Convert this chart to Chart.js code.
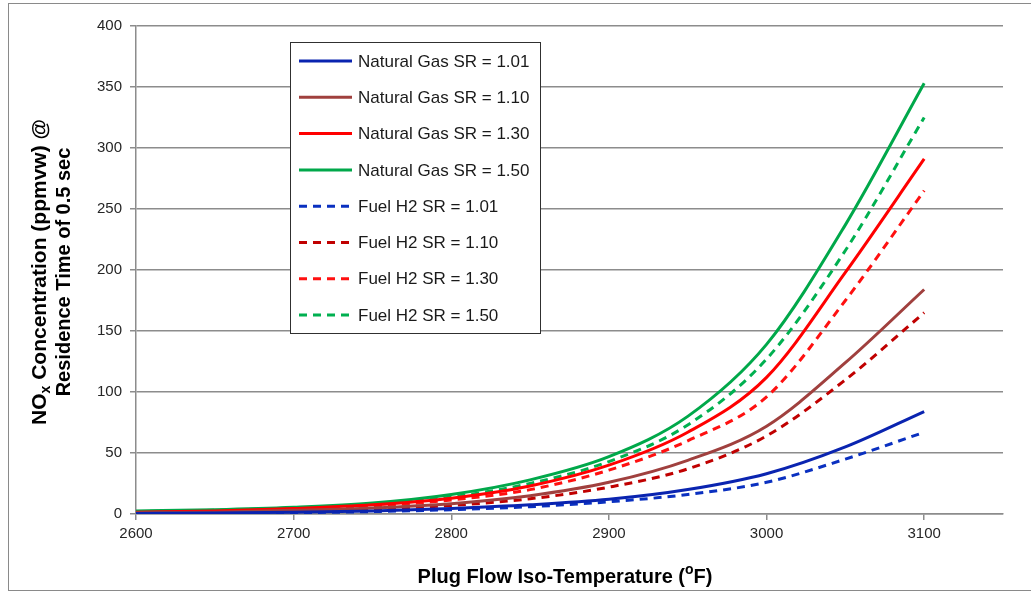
<!DOCTYPE html>
<html>
<head>
<meta charset="utf-8">
<title>NOx vs Plug Flow Temperature</title>
<script src="https://cdn.jsdelivr.net/npm/chart.js@4.4.1/dist/chart.umd.min.js"></script>
<style>
    html, body { margin: 0; padding: 0; background: #ffffff; }
    #wrap { width: 1031px; height: 593px; position: relative; }
</style>
</head>
<body>
<div id="wrap"><canvas id="noxChart" width="1031" height="593"></canvas></div>
<script>
// ===== DATA =====
const temps = [2600, 2650, 2700, 2750, 2800, 2850, 2900, 2950, 3000, 3050, 3100];

const ngSR101 = [0.5, 0.8, 1.5, 2.5, 4.5, 7.5, 12, 20, 33, 55, 84];
const ngSR110 = [1, 1.5, 3, 5, 8.5, 15, 26, 44, 72, 124, 184];
const ngSR130 = [1.5, 2.5, 4.5, 7.5, 13, 23, 40, 67, 112, 198, 291];
const ngSR150 = [2.5, 3.5, 5.5, 9, 16, 28, 47, 80, 139, 237, 353];

const h2SR101 = [0.3, 0.5, 1, 2, 3.5, 6, 10, 16, 26, 45, 67];
const h2SR110 = [0.8, 1.2, 2.5, 4, 7, 12.5, 22, 37, 64, 110, 165];
const h2SR130 = [1.2, 2, 4, 6.5, 11.5, 20, 36, 60, 96, 175, 265];
const h2SR150 = [2, 3, 5, 8, 14, 25, 43, 73, 127, 216, 325];

const seriesLabels = [
    'Natural Gas SR = 1.01', 'Natural Gas SR = 1.10', 'Natural Gas SR = 1.30', 'Natural Gas SR = 1.50',
    'Fuel H2 SR = 1.01', 'Fuel H2 SR = 1.10', 'Fuel H2 SR = 1.30', 'Fuel H2 SR = 1.50'
];
const seriesColors = ['#0a24b0', '#a0403e', '#ff0000', '#00a84a', '#0a30c0', '#c00000', '#ff1010', '#00b050'];

const FONT = '"Liberation Sans", Arial, sans-serif';

function toPoints(values) {
    return temps.map((t, i) => ({ x: t, y: values[i] }));
}

function makeDataset(idx, values, dashed) {
    return {
        label: seriesLabels[idx],
        data: toPoints(values),
        borderColor: seriesColors[idx],
        backgroundColor: seriesColors[idx],
        borderWidth: 3,
        borderDash: dashed ? [8, 6] : [],
        pointRadius: 0,
        cubicInterpolationMode: 'monotone',
        fill: false
    };
}

// ===== TEXT HELPERS =====
// draws a run of text pieces, some of them sub/superscript, centred on (0, 0)
function drawRichLine(ctx, parts, size) {
    const small = Math.round(size * 0.68);
    let total = 0;
    parts.forEach(p => {
        ctx.font = 'bold ' + (p.sub || p.sup ? small : size) + 'px ' + FONT;
        p.w = ctx.measureText(p.text).width;
        total += p.w;
    });
    let x = -total / 2;
    parts.forEach(p => {
        ctx.font = 'bold ' + (p.sub || p.sup ? small : size) + 'px ' + FONT;
        let dy = 0;
        if (p.sub) dy = size * 0.28;
        if (p.sup) dy = -size * 0.32;
        ctx.fillText(p.text, x, dy);
        x += p.w;
    });
}

// ===== PLUGINS =====
const frameAndTitles = {
    id: 'frameAndTitles',
    beforeDraw(chart) {
        const ctx = chart.ctx;
        ctx.save();
        ctx.fillStyle = '#ffffff';
        ctx.fillRect(0, 0, chart.width, chart.height);
        ctx.strokeStyle = '#8a8a8a';
        ctx.lineWidth = 1;
        ctx.strokeRect(8.5, 3.5, chart.width + 10, chart.height - 6);
        ctx.restore();
    },
    afterDraw(chart) {
        const ctx = chart.ctx;
        ctx.save();
        ctx.fillStyle = '#000000';
        ctx.textBaseline = 'middle';
        ctx.textAlign = 'left';

        // y axis title, two rotated lines
        ctx.save();
        ctx.translate(40, 272);
        ctx.rotate(-Math.PI / 2);
        drawRichLine(ctx, [{ text: 'NO' }, { text: 'x', sub: true }, { text: ' Concentration (ppmvw) @' }], 21);
        ctx.restore();

        ctx.save();
        ctx.translate(64, 272);
        ctx.rotate(-Math.PI / 2);
        drawRichLine(ctx, [{ text: 'Residence Time of 0.5 sec' }], 20);
        ctx.restore();

        // x axis title
        ctx.save();
        ctx.translate(565, 577);
        drawRichLine(ctx, [{ text: 'Plug Flow Iso-Temperature (' }, { text: 'o', sup: true }, { text: 'F)' }], 20);
        ctx.restore();

        ctx.restore();
    }
};

const boxedLegend = {
    id: 'boxedLegend',
    afterDatasetsDraw(chart) {
        const ctx = chart.ctx;
        const left = 290, top = 42, width = 250, height = 291;
        ctx.save();
        ctx.fillStyle = '#ffffff';
        ctx.fillRect(left, top, width, height);
        ctx.strokeStyle = '#303030';
        ctx.lineWidth = 1;
        ctx.strokeRect(left + 0.5, top + 0.5, width, height);

        ctx.font = '17px ' + FONT;
        ctx.textBaseline = 'middle';
        ctx.textAlign = 'left';
        chart.data.datasets.forEach((ds, i) => {
            const y = top + 19 + i * 36.3;
            ctx.strokeStyle = ds.borderColor;
            ctx.lineWidth = 3;
            ctx.setLineDash(ds.borderDash.length ? [8, 6] : []);
            ctx.beginPath();
            ctx.moveTo(left + 9, y);
            ctx.lineTo(left + 62, y);
            ctx.stroke();
            ctx.fillStyle = '#1a1a1a';
            ctx.fillText(ds.label, left + 68, y + 1);
        });
        ctx.restore();
    }
};

// ===== CHART =====
function initializeChart() {
    const canvas = document.getElementById('noxChart');
    new Chart(canvas, {
        type: 'line',
        data: {
            datasets: [
                makeDataset(0, ngSR101, false),
                makeDataset(1, ngSR110, false),
                makeDataset(2, ngSR130, false),
                makeDataset(3, ngSR150, false),
                makeDataset(4, h2SR101, true),
                makeDataset(5, h2SR110, true),
                makeDataset(6, h2SR130, true),
                makeDataset(7, h2SR150, true)
            ]
        },
        options: {
            responsive: false,
            animation: false,
            layout: { padding: { left: 0, top: 26, right: 28, bottom: 0 } },
            plugins: {
                legend: { display: false },
                tooltip: { enabled: false }
            },
            scales: {
                x: {
                    type: 'linear',
                    min: 2600,
                    max: 3150,
                    afterFit: (scale) => { scale.height = 79; },
                    afterBuildTicks: (scale) => {
                        scale.ticks = scale.ticks.filter(t => t.value <= 3100);
                    },
                    ticks: {
                        stepSize: 100,
                        padding: 5,
                        color: '#262626',
                        font: { family: FONT, size: 15 },
                        maxRotation: 0,
                        callback: (value) => String(value)
                    },
                    grid: {
                        drawOnChartArea: false,
                        drawTicks: true,
                        tickLength: 6,
                        color: '#8c8c8c',
                        lineWidth: 1.5
                    },
                    border: { color: '#8c8c8c', width: 1.5 }
                },
                y: {
                    min: 0,
                    max: 400,
                    afterFit: (scale) => { scale.width = 136; },
                    ticks: {
                        stepSize: 50,
                        padding: 8,
                        color: '#262626',
                        font: { family: FONT, size: 15 }
                    },
                    grid: {
                        color: '#8c8c8c',
                        lineWidth: 1.5,
                        tickLength: 6
                    },
                    border: { color: '#8c8c8c', width: 1.5 }
                }
            }
        },
        plugins: [frameAndTitles, boxedLegend]
    });
}

document.addEventListener('DOMContentLoaded', initializeChart);
</script>
</body>
</html>
